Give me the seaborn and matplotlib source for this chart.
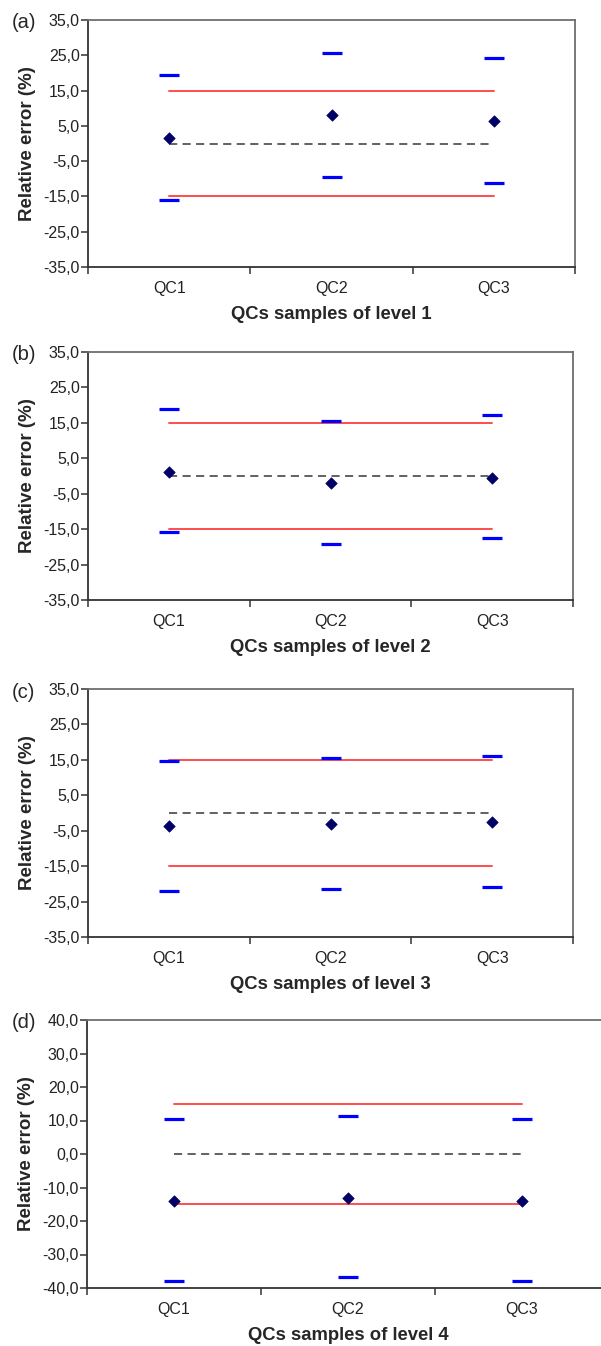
import numpy as np
import pandas as pd
import matplotlib
matplotlib.use('Agg')
import matplotlib.pyplot as plt
import seaborn as sns
from matplotlib.ticker import FixedLocator, FuncFormatter

# data
qcs = ['QC1', 'QC2', 'QC3']
panel_tags = ['(a)', '(b)', '(c)', '(d)']
xlabels = ['QCs samples of level 1', 'QCs samples of level 2',
           'QCs samples of level 3', 'QCs samples of level 4']

upper_a = [19.4, 25.7, 24.3]
lower_a = [-16.1, -9.5, -11.2]
mean_a = [1.6, 8.0, 6.3]

upper_b = [18.9, 15.5, 17.2]
lower_b = [-15.8, -19.2, -17.5]
mean_b = [1.2, -1.9, -0.5]

upper_c = [14.7, 15.4, 16.0]
lower_c = [-22.0, -21.4, -20.8]
mean_c = [-3.8, -3.0, -2.4]

upper_d = [10.5, 11.2, 10.5]
lower_d = [-37.9, -36.7, -37.9]
mean_d = [-14.0, -13.2, -14.0]

limit = 15.0
ylims = [(-35, 35), (-35, 35), (-35, 35), (-40, 40)]
ysteps = [10, 10, 10, 10]

panels = [(upper_a, lower_a, mean_a), (upper_b, lower_b, mean_b),
          (upper_c, lower_c, mean_c), (upper_d, lower_d, mean_d)]

sns.set_style('ticks')
plt.rcParams['font.family'] = ['Liberation Sans', 'DejaVu Sans']

W, H = 601, 1346
fig = plt.figure(figsize=(W / 100, H / 100), dpi=100)

# axes boxes in pixels: left, top, right, bottom
boxes = [(88, 20, 575, 267), (88, 352, 573, 600), (88, 689, 573, 937), (87, 1020, 609, 1288)]
tag_y = [23, 355, 693, 1023]

fmt = FuncFormatter(lambda v, p: f'{v:.1f}'.replace('.', ','))

for i, (up, lo, mn) in enumerate(panels):
    l, t, r, b = boxes[i]
    ax = fig.add_axes([l / W, 1 - b / H, (r - l) / W, (b - t) / H])
    pos = np.arange(len(qcs))
    df = pd.DataFrame({'pos': pos, 'upper': up, 'lower': lo, 'mean': mn})

    ends = pd.DataFrame({'pos': [pos[0], pos[-1]]})
    sns.lineplot(x=ends['pos'], y=[limit] * 2, color='#ff4d4d', lw=1.4, ax=ax)
    sns.lineplot(x=ends['pos'], y=[-limit] * 2, color='#ff4d4d', lw=1.4, ax=ax)
    sns.lineplot(x=ends['pos'], y=[0.0] * 2, color='#555555', lw=1.3,
                 ax=ax).lines[-1].set_dashes([4.5, 3])

    for col in ['upper', 'lower']:
        sns.scatterplot(data=df, x='pos', y=col, marker='_', s=190,
                        color='#0000ff', linewidth=2.3, ax=ax, zorder=4)
    sns.scatterplot(data=df, x='pos', y='mean', marker='D', s=34,
                    color='#000066', edgecolor='#000066', linewidth=0.5, ax=ax, zorder=5)

    ax.set_xlim(-0.5, len(qcs) - 0.5)
    ax.set_ylim(*ylims[i])
    ax.yaxis.set_major_locator(FixedLocator(np.arange(ylims[i][0], ylims[i][1] + 0.1, ysteps[i])))
    ax.yaxis.set_major_formatter(fmt)
    ax.xaxis.set_major_locator(FixedLocator(np.arange(-0.5, len(qcs), 1.0)))
    ax.xaxis.set_major_formatter(FuncFormatter(lambda v, p: ''))
    ax.set_xticks(pos, qcs, minor=True)
    ax.tick_params(axis='x', which='minor', length=0, pad=10, labelsize=11.5, labelcolor='#222222')
    ax.tick_params(axis='x', which='major', length=5, width=1.1, color='#333333')
    ax.tick_params(axis='y', length=5, width=1.1, color='#333333', labelsize=11.5,
                   labelcolor='#222222', pad=1)

    for s in ['left', 'bottom']:
        ax.spines[s].set_color('#333333')
        ax.spines[s].set_linewidth(1.3)
    for s in ['top', 'right']:
        ax.spines[s].set_color('#6e6e6e')
        ax.spines[s].set_linewidth(1.3)

    ax.set_xlabel(xlabels[i], fontsize=13.3, fontweight='bold', labelpad=7)
    ax.set_ylabel('Relative error (%)', fontsize=13.5, fontweight='bold', labelpad=5)
    fig.text(12 / W, 1 - tag_y[i] / H, panel_tags[i], fontsize=14.5, va='center', ha='left')

fig.savefig('out.png', dpi=100)
